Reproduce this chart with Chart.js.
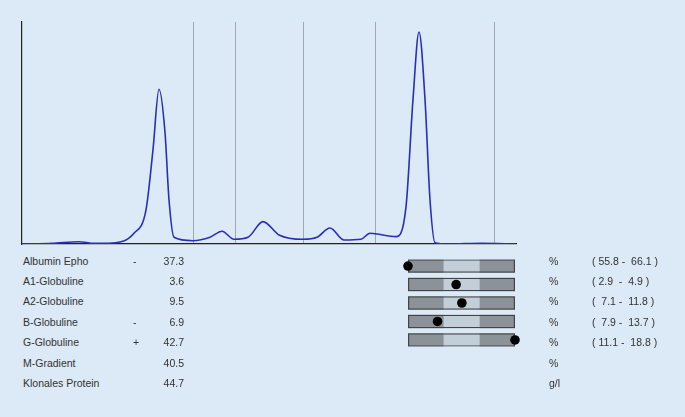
<!DOCTYPE html>
<html><head><meta charset="utf-8">
<script src="https://cdn.jsdelivr.net/npm/chart.js@4"></script>
<style>
body{margin:0;background:#dce9f6;width:685px;height:417px;overflow:hidden;font-family:"Liberation Sans",Arial,sans-serif;}
#c1{position:absolute;left:0;top:0;}
#c2{position:absolute;left:400px;top:252px;}
.t{position:absolute;font-size:10.5px;color:#333;white-space:pre;}
</style></head><body>
<canvas id="c1" width="685" height="250"></canvas>
<canvas id="c2" width="125" height="102"></canvas>
<div id="tbl"></div>
<script>
// electropherogram: migration position and density
const curveX = [0,30,57,72,90,112,124,131,137,143,147,152,171,188,200,212,226,241,257,281,295,308,322,339,348,374,384,391,397,403,408,413,426,460,494];
const curveY = [0,0.7,2.3,0.6,1,10.7,34,94,154,111,44,6.7,3.3,6.7,12.7,4.7,6.7,22.3,9,4.7,6.7,16,4,4.7,10.7,7.3,37,144,211,144,44,1.3,0,0.7,0];
const fractionBounds = [171,213,281,353,472];
const names = ["Albumin Epho","A1-Globuline","A2-Globuline","B-Globuline","G-Globuline","M-Gradient","Klonales Protein"];
const flags = ["-","","","-","+","",""];
const values = [37.3,3.6,9.5,6.9,42.7,40.5,44.7];
const units = ["%","%","%","%","%","%","g/l"];
const refLow = [55.8,2.9,7.1,7.9,11.1];
const refHigh = [66.1,4.9,11.8,13.7,18.8];
const refText = ["( 55.8 -  66.1 )","( 2.9  -  4.9 )","(  7.1 -  11.8 )","(  7.9 -  13.7 )","( 11.1 -  18.8 )"];

new Chart(document.getElementById('c1'),{
 type:'line',
 data:{datasets:[{data:curveX.map((x,i)=>({x,y:curveY[i]})),borderColor:'#2b2fb8',borderWidth:1.6,pointRadius:0,tension:0.4,cubicInterpolationMode:'monotone',fill:false}]},
 options:{responsive:false,animation:false,layout:{padding:{left:22,top:22,right:169,bottom:6}},
  plugins:{legend:{display:false},tooltip:{enabled:false}},
  scales:{
   x:{type:'linear',min:0,max:494,ticks:{display:false},afterBuildTicks:a=>{a.ticks=fractionBounds.map(v=>({value:v}));},
      grid:{color:'#a0a8b0',lineWidth:1,drawTicks:false},border:{color:'#222',width:1.2}},
   y:{min:0,max:221,ticks:{display:false},grid:{display:false,drawTicks:false},border:{color:'#222',width:1.2}}
  }}
});

const rows = names.slice(0,5);
const pos = values.slice(0,5).map((v,i)=>{let p=1+(v-refLow[i])/(refHigh[i]-refLow[i]);return Math.max(0,Math.min(3,p));});
const seg=(a,b,c)=>({type:'bar',data:rows.map(()=>[a,b]),backgroundColor:c,borderColor:'#555',borderWidth:0,barPercentage:0.72,categoryPercentage:1,grouped:false});
new Chart(document.getElementById('c2'),{
 data:{labels:rows,datasets:[
  {type:'scatter',data:rows.map((r,i)=>({x:pos[i],y:r})),backgroundColor:'#000',borderWidth:0,pointRadius:4.8,clip:false,order:0},
  {type:'bar',data:rows.map(()=>[0,3]),backgroundColor:'rgba(0,0,0,0)',borderColor:'#444',borderWidth:1.2,borderSkipped:false,barPercentage:0.72,categoryPercentage:1,grouped:false,order:1},
  Object.assign(seg(0,1,'#8b9299'),{order:2}),Object.assign(seg(1,2,'#c2ced8'),{order:2}),Object.assign(seg(2,3,'#8b9299'),{order:2})
 ]},
 options:{indexAxis:'y',responsive:false,animation:false,layout:{padding:{left:8,right:10,top:0,bottom:0}},
  plugins:{legend:{display:false},tooltip:{enabled:false}},
  scales:{x:{type:'linear',min:0,max:3,display:false},y:{type:'category',display:false,offset:true}}}
});

const tbl=document.getElementById('tbl');
const add=(x,y,s,al)=>{const d=document.createElement('div');d.className='t';d.textContent=s;d.style.top=y+'px';if(al==='r'){d.style.right=(685-x)+'px';}else d.style.left=x+'px';tbl.appendChild(d);};
const rowY=[255,275,295,316,336,357,377];
names.forEach((n,i)=>{
 add(23,rowY[i],n);
 add(133,rowY[i],flags[i]);
 add(184,rowY[i],values[i].toFixed(1),'r');
 add(549,rowY[i],units[i]);
 if(i<5) add(592,rowY[i],refText[i]);
});
</script></body></html>
